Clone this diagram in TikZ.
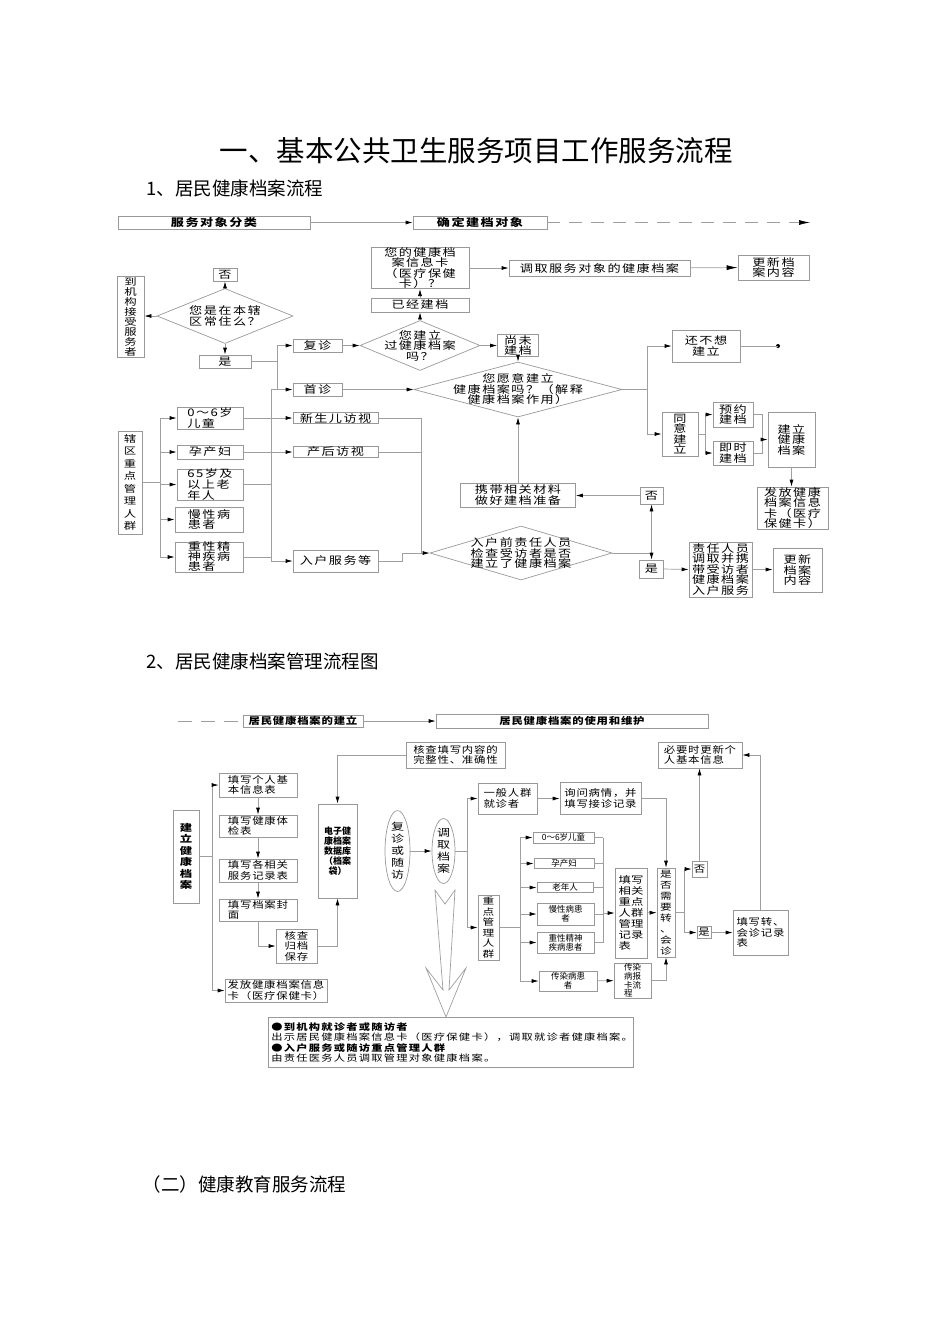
\documentclass[tikz,border=0pt]{standalone}
\usepackage{fontspec}
\setmainfont{Noto Sans CJK SC}
\newfontfamily\cn[FakeStretch=1.25,LetterSpace=14]{Noto Sans CJK SC}
\newfontfamily\cnb[FakeStretch=1.2,LetterSpace=8]{Noto Sans CJK SC}
\newfontfamily\cnv[FakeStretch=1.3]{Noto Sans CJK SC}
\usetikzlibrary{arrows.meta,shapes.geometric,positioning}

\tikzset{
  ln/.style={draw=gray!75, line width=0.7pt},
  arr/.style={ln, -{Latex[length=7pt,width=4pt,color=black]}},
  bigarr/.style={ln, -{Latex[length=11pt,width=5pt,color=black]}},
  sz/.style 2 args={minimum width=#1, minimum height=#2},
  box/.style={draw=gray!80, line width=0.7pt, inner sep=0pt, align=center,
    font=\cn\fontsize{10.5}{10.5}\selectfont},
  vbox/.style={box, font=\cnv\fontsize{9.5}{10}\selectfont},
  head/.style={box, font=\cn\bfseries\fontsize{10.5}{10}\selectfont},
  box2/.style={box, align=left, font=\cnb\fontsize{9.5}{10.5}\selectfont},
  vbox2/.style={box, font=\cnv\fontsize{9}{11}\selectfont},
  head2/.style={box, font=\cnb\bfseries\fontsize{9.5}{10}\selectfont},
  small/.style={box, align=left, font=\fontsize{8.5}{9}\selectfont},
  dia/.style={diamond, draw=gray!80, line width=0.7pt, inner sep=0pt},
  dtxt/.style={align=center, inner sep=0pt, font=\cn\fontsize{10.5}{10.5}\selectfont},
  oval/.style={ellipse, draw=gray!80, line width=0.7pt, inner sep=0pt, align=center,
    font=\cnv\fontsize{10}{12}\selectfont},
  sect/.style={anchor=west, font=\fontsize{18.5}{18.5}\selectfont}
}

\begin{document}
\begin{tikzpicture}[x=1pt,y=-1pt]
\useasboundingbox[fill=white] (0,0) rectangle (950,1344);
\node[font=\fontsize{28.5}{28.5}\selectfont] (title) at (476,151) {一、基本公共卫生服务项目工作服务流程};
\node[sect] (sec1) at (143,188) {1、居民健康档案流程};
\node[sect] (sec2) at (143,661) {2、居民健康档案管理流程图};
\node[sect] (sec3) at (139,1184) {（二）健康教育服务流程};

\node[head,sz={192}{13}] (cls) at (214,222.5) {服务对象分类};
\node[head,sz={134}{13}] (obj) at (480,222.5) {确定建档对象};
\coordinate (dashend) at (810,222.5);
\draw[arr] (cls) -- (obj);
\draw[bigarr,dash pattern=on 13pt off 9pt] (obj) -- (dashend);

\node[box,sz={98}{40}] (card) at (420,268) {您的健康档\\案信息卡\\（医疗保健\\卡）？};
\node[box,sz={98}{14}] (built) at (420,305) {已经建档};
\node[box,sz={181}{16}] (fetch) at (599.5,268) {调取服务对象的健康档案};
\node[box,sz={71}{25}] (upd1) at (773.5,267.5) {更新档\\案内容};
\node[vbox,sz={27}{81}] (inst) at (130.5,316.5) {到\\机\\构\\接\\受\\服\\务\\者};
\node[dia,sz={136}{55}] (d1) at (225,316) {};
\node[dtxt] at (d1) {您是在本辖\\区常住么？};
\node[box,sz={24}{13}] (no1) at (225,274.5) {否};
\node[box,sz={52}{13}] (yes1) at (225,361.5) {是};
\node[box,sz={49}{13}] (rev) at (317.5,345.5) {复诊};
\node[box,sz={49}{13}] (first) at (317.5,389.5) {首诊};
\node[dia,sz={120}{50}] (d2) at (420,345.5) {};
\node[dtxt] at (d2) {您建立\\过健康档案\\吗？};
\node[box,sz={41}{22}] (notyet) at (518,345.5) {尚未\\建档};
\node[dia,sz={208}{55}] (d3) at (518,389.5) {};
\node[dtxt] at (d3) {您愿意建立\\健康档案吗？（解释\\健康档案作用）};
\node[box,sz={68}{32}] (nowant) at (706,346) {还不想\\建立};
\coordinate (stop) at (778,346);
\fill (stop) circle (2);
\node[box,sz={36}{44}] (agree) at (680,434) {同\\意\\建\\立};
\node[box,sz={40}{25}] (appt) at (733,414.5) {预约\\建档};
\node[box,sz={40}{24}] (now) at (733,453) {即时\\建档};
\node[box,sz={47}{55}] (est) at (791.5,439.5) {建立\\健康\\档案};
\node[box,sz={71}{42}] (issue) at (792.5,508) {发放健康\\档案信息\\卡（医疗\\保健卡）};

\node[vbox,sz={24}{103},font=\cnv\fontsize{9.5}{12.5}\selectfont] (key) at (130,482.5) {辖\\区\\重\\点\\管\\理\\人\\群};
\node[box,sz={66}{22},align=left] (kid) at (210,418) {0～6岁\\儿童};
\node[box,sz={66}{14}] (preg) at (210,452) {孕产妇};
\node[box,sz={66}{27},align=left,font=\cn\fontsize{10.5}{9}\selectfont] (old) at (210,484.5) {65岁及\\以上老\\年人};
\node[box,sz={68}{25},align=left] (chr) at (209,519.5) {慢性病\\患者};
\node[box,sz={68}{30},align=left,font=\cn\fontsize{10.5}{10}\selectfont] (men) at (209,557) {重性精\\神疾病\\患者};
\node[box,sz={85}{11}] (newb) at (335.5,418) {新生儿访视};
\node[box,sz={85}{11}] (post) at (335.5,452) {产后访视};
\node[box,sz={85}{22}] (home) at (335.5,561) {入户服务等};
\node[dia,sz={182}{54}] (d4) at (521,553) {};
\node[dtxt] at (d4) {入户前责任人员\\检查受访者是否\\建立了健康档案};
\node[box,sz={115}{24}] (carry) at (518,495) {携带相关材料\\做好建档准备};
\node[box,sz={23}{17}] (no2) at (651.5,495.5) {否};
\node[box,sz={24}{18}] (yes2) at (651.5,569) {是};
\node[box,sz={63}{55},align=left] (staff) at (720.5,569.5) {责任人员\\调取并携\\带受访者\\健康档案\\入户服务};
\node[box,sz={49}{44}] (upd2) at (797.5,570) {更新\\档案\\内容};

\draw[arr] (built) -- (card);
\draw[arr] (d2.north) -- (built);
\draw[arr] (card.east) -- (fetch.west);
\draw[bigarr] (fetch) -- (upd1);
\draw[arr] (d1.west) -- (d1.west -| inst.east);
\draw[arr] (d1.north) -- (no1);
\draw[arr] (d1.south) -- (yes1);
\draw[ln] (yes1.east) -- (277,361.5);
\draw[arr] (277,361.5) |- (rev.west);
\draw[arr] (277,361.5) |- (first.west);
\draw[arr] (rev) -- (d2);
\draw[arr] (d2) -- (notyet);
\draw[arr] (notyet) -- (d3.north);
\draw[arr] (first) -- (d3);
\draw[ln] (d3.east) -- (647,389.5);
\draw[arr] (647,389.5) |- (nowant.west);
\draw[arr] (647,389.5) |- (agree.west);
\draw[ln] (nowant) -- (stop);
\draw[ln] (agree.east) -- (705,434);
\draw[arr] (705,434) |- (appt.west);
\draw[arr] (705,434) |- (now.west);
\draw[ln] (appt.east) -- (762,414.5) -- (762,453) -- (now.east);
\draw[arr] (762,439.5) -- (est.west);
\draw[arr] (est.south) -- (est.south |- issue.north);

\coordinate (bus1) at (160,482.5);
\coordinate (bus2) at (271,389.5);
\draw[ln] (key.east) -- (bus1);
\draw[ln] (bus1 |- kid) -- (bus1 |- men);
\foreach \n in {kid,preg,old,chr,men}
  \draw[arr] (bus1 |- \n) -- (\n.west);
\draw[arr] (kid.east) -- (newb.west);
\draw[arr] (preg.east) -- (post.west);
\draw[ln] (old.east) -- (old.east -| bus2);
\draw[ln] (men.east) -- (men.east -| bus2);
\draw[ln] (bus2) -- (277,389.5);
\draw[ln] (bus2) -- (bus2 |- home);
\draw[arr] (bus2 |- home) -- (home.west);
\draw[ln] (newb.east) -- (421,418) -- (421,553);
\draw[ln] (post.east) -- (421,452);
\draw[ln] (home.east) -- (402,561) -- (402,553) -- (421,553);
\draw[arr] (421,553) -- (d4.west);
\coordinate (fork) at (651.5,553);
\draw[ln] (d4.east) -- (fork);
\draw[arr] (fork) -- (no2.south);
\draw[arr] (fork) -- (yes2.north);
\draw[arr] (no2.west) -- (no2.west -| carry.east);
\draw[arr] (carry.north) -- (d3.south);
\draw[arr] (yes2.east) -- (staff.west);
\draw[arr] (staff.east) -- (staff.east -| upd2.west);

\coordinate (dashstart) at (178,721);
\node[head2,sz={120}{12}] (bld) at (303,721) {居民健康档案的建立};
\node[head2,sz={272}{14}] (use) at (572,721) {居民健康档案的使用和维护};
\draw[ln,dash pattern=on 14pt off 9pt] (dashstart) -- (bld.west);
\draw[arr] (bld) -- (use);

\node[box2,sz={99}{26}] (chk) at (455.5,755) {核查填写内容的\\完整性、准确性};
\node[vbox2,sz={39}{94},font=\bfseries\fontsize{9}{10}\selectfont] (db) at (337.5,851) {电子健\\康档案\\数据库\\（档案\\袋）};
\node[vbox2,sz={26}{93},font=\cnv\bfseries\fontsize{9.5}{11.5}\selectfont] (est2) at (186,856.5) {建\\立\\健\\康\\档\\案};
\node[box2,sz={78}{24}] (f1) at (258,785) {填写个人基\\本信息表};
\node[box2,sz={78}{22}] (f2) at (258,826) {填写健康体\\检表};
\node[box2,sz={78}{23}] (f3) at (258,870.5) {填写各相关\\服务记录表};
\node[box2,sz={78}{22}] (f4) at (258,910) {填写档案封\\面};
\node[box2,sz={41}{34},align=center] (arch) at (296.5,946) {核查\\归档\\保存};
\node[box2,sz={102}{23}] (card2) at (276,990.5) {发放健康档案信息\\卡（医疗保健卡）};
\node[oval,sz={25}{80}] (rv) at (397.5,851) {复\\诊\\或\\随\\访};
\node[oval,sz={23}{65}] (get) at (443.5,851) {调\\取\\档\\案};
\node[box2,sz={59}{31}] (gen) at (507.5,798.5) {一般人群\\就诊者};
\node[box2,sz={81}{32}] (ask) at (600.5,798.5) {询问病情，并\\填写接诊记录};
\node[vbox2,sz={21}{65},font=\cnv\fontsize{9}{10.5}\selectfont] (keyg) at (488.5,927.5) {重\\点\\管\\理\\人\\群};
\node[small,sz={61}{11}] (k1) at (563.5,837.5) {0～6岁儿童};
\node[small,sz={60}{10}] (k2) at (564,863.5) {孕产妇};
\node[small,sz={56}{10}] (k3) at (565,887.5) {老年人};
\node[small,sz={57}{22},align=center] (k4) at (565.5,914) {慢性病患\\者};
\node[small,sz={57}{21},align=center] (k5) at (565.5,942.5) {重性精神\\疾病患者};
\node[small,sz={58}{20},align=center] (k6) at (568,981) {传染病患\\者};
\node[box2,sz={32}{90},font=\cnv\fontsize{9.5}{11}\selectfont] (rec) at (631,913) {填写\\相关\\重点\\人群\\管理\\记录\\表};
\node[small,sz={37}{35},font=\fontsize{8.5}{8.7}\selectfont] (rep) at (632.5,980.5) {传染\\病报\\卡流\\程};
\node[vbox2,sz={18}{89}] (need) at (666,912.5) {是\\否\\需\\要\\转\\、\\会\\诊};
\node[box2,sz={15}{16}] (no3) at (699.5,869) {否};
\node[box2,sz={14}{12}] (yes3) at (704,932.5) {是};
\node[box2,sz={84}{26}] (upd3) at (700,755) {必要时更新个\\人基本信息};
\node[box2,sz={55}{45}] (refer) at (760.5,932.5) {填写转、\\会诊记录\\表};
\node[draw=gray!80, line width=0.7pt, anchor=north west, minimum width=365, minimum height=50,
  inner sep=3pt, text width=359, align=left, font=\cn\fontsize{9}{10.5}\selectfont] (note) at (268,1017)
  {\textbf{●到机构就诊者或随访者}\\出示居民健康档案信息卡（医疗保健卡），调取就诊者健康档案。\\
   \textbf{●入户服务或随访重点管理人群}\\由责任医务人员调取管理对象健康档案。};
\draw[ln] (435,890) -- (445,904) -- (455,890) -- (449,990) -- (466,968) -- (446,1017)
  -- (426,968) -- (443,990) -- cycle;

\draw[arr] (chk.west) -| (db.north);
\draw[ln] (est2.east) -- (212,856.5);
\draw[arr] (212,856.5) |- (f1.west);
\draw[arr] (212,856.5) |- (card2.west);
\draw[arr] (f1) -- (f2);
\draw[arr] (f2) -- (f3);
\draw[arr] (f3) -- (f4);
\draw[arr] (f4.south) |- (arch.west);
\draw[arr] (arch.east) -| (db.south);
\draw[arr] (rv) -- (get);
\draw[ln] (get.east) -- (467,851);
\draw[arr] (467,851) |- (gen.west);
\draw[arr] (467,851) |- (keyg.west);
\draw[arr] (gen) -- (ask);
\draw[arr] (ask.east) -| (need.north);
\coordinate (bus3) at (520,927.5);
\coordinate (bus4) at (603,913);
\coordinate (bus5) at (684,912.5);
\draw[ln] (keyg.east) -- (bus3);
\draw[ln] (bus3 |- k1) -- (bus3 |- k6);
\foreach \n in {k1,k2,k3,k4,k5,k6}
  \draw[arr] (bus3 |- \n) -- (\n.west);
\foreach \n in {k1,k2,k3,k4,k5}
  \draw[ln] (\n.east) -- (\n.east -| bus4);
\draw[ln] (bus4 |- k1) -- (bus4 |- k5);
\draw[arr] (bus4) -- (rec.west);
\draw[arr] (k6) -- (rep);
\draw[arr] (rec) -- (need);
\draw[arr] (rep.east) -| (need.south);
\draw[ln] (need.east) -- (bus5);
\draw[arr] (bus5) |- (no3.west);
\draw[arr] (bus5) |- (yes3.west);
\draw[arr] (no3.north) -- (no3.north |- upd3.south);
\draw[arr] (yes3) -- (refer);
\draw[arr] (refer.north) |- (upd3.east);
\end{tikzpicture}
\end{document}
